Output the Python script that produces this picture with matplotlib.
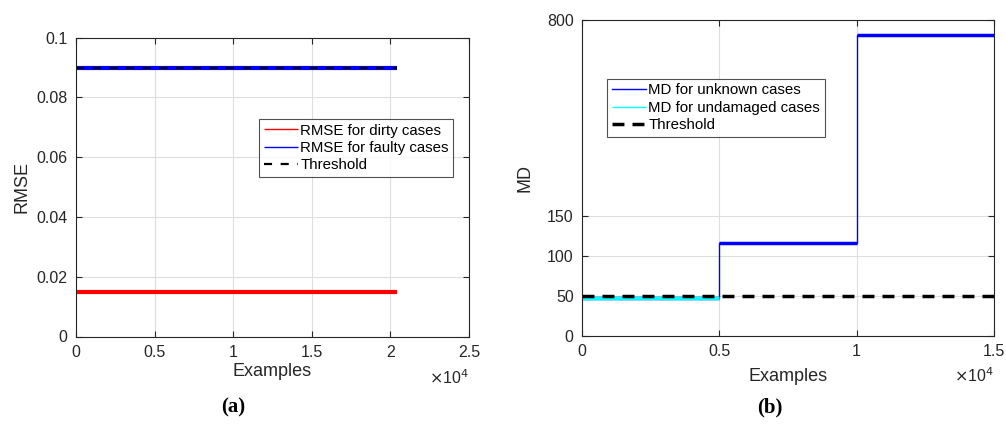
import numpy as np
import matplotlib
matplotlib.use("Agg")
import matplotlib.pyplot as plt

plt.rcParams['font.family'] = ['Liberation Sans', 'DejaVu Sans']
plt.rcParams['lines.scale_dashes'] = False

# ---------------- data ----------------
# (a) RMSE
rmse_x = [0, 20400]
rmse_dirty = [0.015, 0.015]
rmse_faulty = [0.0899, 0.0899]
rmse_threshold = [0.0899, 0.0899]
a_xticks = [0, 5000, 10000, 15000, 20000, 25000]
a_xticklabels = ['0', '0.5', '1', '1.5', '2', '2.5']
a_yticks = [0, 0.02, 0.04, 0.06, 0.08, 0.1]
a_yticklabels = ['0', '0.02', '0.04', '0.06', '0.08', '0.1']

# (b) MD
md_edges = [0, 5000, 10000, 15000]
md_unknown_levels = [48, 116, 748]
md_undamaged_x = [0, 5000]
md_undamaged = [47.5, 47.5]
md_threshold_x = [0, 15000]
md_threshold = [50, 50]
b_xticks = [0, 5000, 10000, 15000]
b_xticklabels = ['0', '0.5', '1', '1.5']
b_yticks = [0, 50, 100, 150, 800]
b_yticklabels = ['0', '50', '100', '150', '800']

W, H = 1006, 430
fig = plt.figure(figsize=(W / 100, H / 100), dpi=100)

axis_col = '#262626'
grid_col = '#dedede'


def style(ax):
    for s in ax.spines.values():
        s.set_color(axis_col)
        s.set_linewidth(0.8)
    ax.tick_params(direction='in', length=4, width=0.8, colors=axis_col,
                   labelsize=11.5, top=True, right=True, pad=6)
    ax.grid(True, color=grid_col, linewidth=0.8)
    ax.set_axisbelow(True)


leg_kw = dict(loc='upper left', fontsize=10.8, frameon=True, fancybox=False,
              edgecolor=axis_col, handlelength=2.3, handletextpad=0.15,
              borderpad=0.3, labelspacing=0.22, borderaxespad=0)

# ---------------- (a) ----------------
ax1 = fig.add_axes([76 / W, (H - 336.5) / H, (469 - 76) / W, (336.5 - 37.5) / H])
ax1.plot(rmse_x, rmse_dirty, color='#ff0000', lw=3, solid_capstyle='butt',
         label='RMSE for dirty cases')
ax1.plot(rmse_x, rmse_faulty, color='#0000ff', lw=3, solid_capstyle='butt',
         label='RMSE for faulty cases')
ax1.plot(rmse_x, rmse_threshold, color='black', lw=1.6, dashes=(5.8, 6.2),
         label='Threshold')
ax1.set_xlim(0, 25000)
ax1.set_ylim(0, 0.1)
ax1.set_xticks(a_xticks)
ax1.set_xticklabels(a_xticklabels)
ax1.set_yticks(a_yticks)
ax1.set_yticklabels(a_yticklabels)
style(ax1)
ax1.set_xlabel('Examples', fontsize=13, color=axis_col, labelpad=2)
ax1.set_ylabel('RMSE', fontsize=13, color=axis_col, labelpad=4)
ax1.text(1.0, -(378 - 336.5) / 299, r'$\times$10$^4$', transform=ax1.transAxes,
         ha='right', va='center', fontsize=11.5, color=axis_col)
leg1 = ax1.legend(bbox_to_anchor=((259 - 76) / 393, (336.5 - 119) / 299), **leg_kw)
leg1.get_frame().set_linewidth(0.8)
for lh in leg1.get_lines()[:2]:
    lh.set_linewidth(1.0)

# ---------------- (b) ----------------
def fwd(y):
    y = np.asarray(y, dtype=float)
    return np.where(y <= 150, y * 0.8, 120 + (y - 150) * 196.0 / 650.0)


def inv(v):
    v = np.asarray(v, dtype=float)
    return np.where(v <= 120, v / 0.8, 150 + (v - 120) * 650.0 / 196.0)


ax2 = fig.add_axes([582 / W, (H - 336) / H, (994 - 582) / W, (336 - 19.5) / H])
ax2.set_yscale('function', functions=(fwd, inv))
ax2.stairs(md_unknown_levels, md_edges, baseline=None, color='#0000ff', lw=1.0,
           label='MD for unknown cases')
# thicken the flat noisy bands
for i, lev in enumerate(md_unknown_levels):
    ax2.plot([md_edges[i], md_edges[i + 1]], [lev, lev], color='#0000ff', lw=2.5,
             solid_capstyle='butt')
ax2.plot(md_undamaged_x, md_undamaged, color='#00ffff', lw=2.5, solid_capstyle='butt',
         label='MD for undamaged cases')
ax2.plot(md_threshold_x, md_threshold, color='black', lw=2.5, dashes=(8.6, 5.8),
         label='Threshold')
ax2.set_xlim(0, 15000)
ax2.set_ylim(0, 800)
ax2.set_xticks(b_xticks)
ax2.set_xticklabels(b_xticklabels)
ax2.set_yticks(b_yticks)
ax2.set_yticklabels(b_yticklabels)
ax2.yaxis.set_minor_locator(matplotlib.ticker.NullLocator())
style(ax2)
ax2.set_xlabel('Examples', fontsize=13, color=axis_col, labelpad=6)
ax2.set_ylabel('MD', fontsize=13, color=axis_col, labelpad=10)
ax2.text(1.0, -(376 - 336) / 316.5, r'$\times$10$^4$', transform=ax2.transAxes,
         ha='right', va='center', fontsize=11.5, color=axis_col)
h, l = ax2.get_legend_handles_labels()
leg2 = ax2.legend(h, l, bbox_to_anchor=((607 - 582) / 412, (336 - 79) / 316.5), **leg_kw)
leg2.get_frame().set_linewidth(0.8)
for lh in leg2.get_lines()[:2]:
    lh.set_linewidth(1.0)

# panel labels
fig.text(233 / W, 1 - 407 / H, '(a)', ha='center', va='center', fontsize=15,
         fontweight='bold', family=['Liberation Serif', 'DejaVu Serif'])
fig.text(770 / W, 1 - 407 / H, '(b)', ha='center', va='center', fontsize=15,
         fontweight='bold', family=['Liberation Serif', 'DejaVu Serif'])

fig.savefig('out.png', dpi=100)
